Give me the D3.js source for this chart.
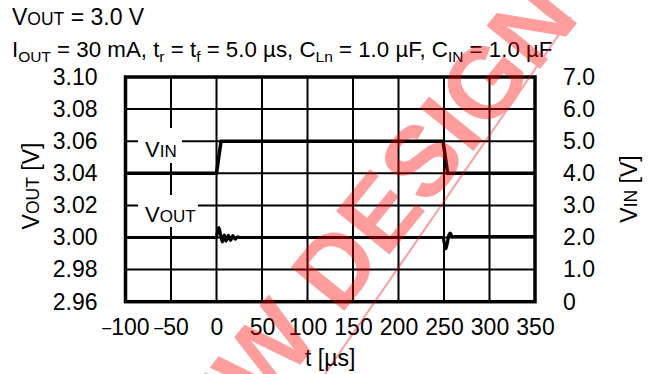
<!DOCTYPE html>
<html><head><meta charset="utf-8">
<script src="https://cdn.jsdelivr.net/npm/d3@7"></script>
<style>
html,body{margin:0;padding:0;background:#fff;}
svg{display:block;font-family:"Liberation Sans",Arial,Helvetica,sans-serif;}
</style></head>
<body>
<svg id="chart" width="653" height="374"></svg>
<script>
// ---- data ----
const xTicks = [-100, -50, 0, 50, 100, 150, 200, 250, 300, 350];
const xTickLabels = ["\u2013100", "\u201350", "0", "50", "100", "150", "200", "250", "300", "350"];
const yLeftTicks = [2.96, 2.98, 3.00, 3.02, 3.04, 3.06, 3.08, 3.10];
const yLeftTickLabels = ["2.96", "2.98", "3.00", "3.02", "3.04", "3.06", "3.08", "3.10"];
const yRightTicks = [0, 1, 2, 3, 4, 5, 6, 7];
const yRightTickLabels = ["0", "1.0", "2.0", "3.0", "4.0", "5.0", "6.0", "7.0"];

const vinTime = [-100, 0, 5, 249, 254, 350];
const vinValue = [4.0, 4.0, 5.0, 5.0, 4.0, 4.0];

const voutTime = [-100, 0, 1, 2.5, 4.5, 6.5, 8.5, 10.5, 13, 15.5, 18, 20.5, 23, 26,
                  249, 250.5, 252, 253.5, 255.5, 257, 259, 261, 350];
const voutValue = [3.000, 3.000, 3.0035, 3.0062, 3.0018, 2.9972, 3.0015, 2.9978, 3.0014, 2.9982, 3.0012, 2.9989, 3.0004, 3.000,
                   3.000, 2.996, 2.9930, 2.9962, 3.0018, 3.0028, 3.0004, 3.0005, 3.0005];

// ---- layout ----
const svg = d3.select("#chart");
const L = 125.5, R = 535, T = 77, B = 301.7;
const x = d3.scaleLinear().domain([-100, 350]).range([L, R]);
const yL = d3.scaleLinear().domain([2.96, 3.10]).range([B, T]);
const yR = d3.scaleLinear().domain([0, 7]).range([B, T]);
const FS = 23;

// grid
const grid = svg.append("g");
grid.selectAll("line.v").data(xTicks.slice(1, -1)).join("line")
  .attr("x1", d => x(d)).attr("x2", d => x(d)).attr("y1", T).attr("y2", B)
  .attr("stroke", "#000").attr("stroke-width", 2);
grid.selectAll("line.h").data(yLeftTicks.slice(1, -1)).join("line")
  .attr("class", "h")
  .attr("x1", L).attr("x2", R).attr("y1", d => yL(d)).attr("y2", d => yL(d))
  .attr("stroke", "#000").attr("stroke-width", 2);

// label boxes (white)
svg.append("rect").attr("x", 138).attr("y", 128).attr("width", 44).attr("height", 35).attr("fill", "#fff");
svg.append("rect").attr("x", 138).attr("y", 195).attr("width", 60).attr("height", 32).attr("fill", "#fff");

function smallCapsLabel(g, big, small, xPos, yPos, fsBig, fsSmall) {
  const t = g.append("text").attr("x", xPos).attr("y", yPos).attr("font-size", fsBig).attr("fill", "#000");
  t.append("tspan").text(big);
  t.append("tspan").attr("font-size", fsSmall).text(small);
  return t;
}
smallCapsLabel(svg, "V", "IN", 145, 157, 22, 17);
smallCapsLabel(svg, "V", "OUT", 145, 222, 22, 17);

// axes (labels only)
const axB = d3.axisBottom(x).tickValues(xTicks).tickSize(0).tickPadding(0)
  .tickFormat((d, i) => xTickLabels[i]);
const gB = svg.append("g").attr("transform", `translate(0,${B + 17})`).call(axB)
  .call(g => g.select(".domain").remove());
gB.selectAll("text").attr("font-size", FS).attr("font-family", "Liberation Sans, Arial, sans-serif").attr("fill", "#000")
  .each(function () {
    const s = d3.select(this), txt = s.text();
    if (txt.startsWith("\u2013")) {
      s.text("").attr("dy", null);
      s.append("tspan").attr("font-size", 16).attr("dy", 0.71 * FS - 2.5).text("\u2013");
      s.append("tspan").attr("dy", 2.5).text(txt.slice(1));
    }
  });

const axL = d3.axisLeft(yL).tickValues(yLeftTicks).tickSize(0).tickPadding(0)
  .tickFormat((d, i) => yLeftTickLabels[i]);
svg.append("g").attr("transform", `translate(${L - 28},0)`).call(axL)
  .call(g => g.select(".domain").remove())
  .selectAll("text").attr("font-size", FS).attr("font-family", "Liberation Sans, Arial, sans-serif").attr("fill", "#000");

const axR = d3.axisRight(yR).tickValues(yRightTicks).tickSize(0).tickPadding(0)
  .tickFormat((d, i) => yRightTickLabels[i]);
svg.append("g").attr("transform", `translate(${R + 28},0)`).call(axR)
  .call(g => g.select(".domain").remove())
  .selectAll("text").attr("font-size", FS).attr("font-family", "Liberation Sans, Arial, sans-serif").attr("fill", "#000");

// axis titles
const lt = svg.append("text").attr("transform", "translate(39,186) rotate(-90)")
  .attr("text-anchor", "middle").attr("font-size", FS).attr("fill", "#000");
lt.append("tspan").text("V");
lt.append("tspan").attr("font-size", 17.5).text("OUT");
lt.append("tspan").text(" [V]");

const rt = svg.append("text").attr("transform", "translate(637,189) rotate(-90)")
  .attr("text-anchor", "middle").attr("font-size", FS).attr("fill", "#000");
rt.append("tspan").text("V");
rt.append("tspan").attr("font-size", 17.5).text("IN");
rt.append("tspan").text(" [V]");

svg.append("text").attr("x", (L + R) / 2).attr("y", 366).attr("text-anchor", "middle")
  .attr("font-size", FS).attr("fill", "#000").text("t [\u00b5s]");

// titles
const t1 = svg.append("text").attr("x", 12).attr("y", 25).attr("font-size", FS).attr("fill", "#000");
t1.append("tspan").text("V");
t1.append("tspan").attr("font-size", 17.5).text("OUT");
t1.append("tspan").text(" = 3.0 V");

const t2 = svg.append("text").attr("x", 12).attr("y", 57).attr("font-size", 22.3).attr("fill", "#000");
function sub(txt) { t2.append("tspan").attr("font-size", 15.5).attr("dy", 5).text(txt); }
function norm(txt, back) { const s = t2.append("tspan").text(txt); if (back) s.attr("dy", -5); }
norm("I");
sub("OUT");
norm(" = 30 mA, t", true);
sub("r");
norm(" = t", true);
sub("f");
norm(" = 5.0 \u00b5s, C", true);
sub("Ln");
norm(" = 1.0 \u00b5F, C", true);
sub("IN");
norm(" = 1.0 \u00b5F", true);

// frame
svg.append("rect").attr("x", L).attr("y", T).attr("width", R - L).attr("height", B - T)
  .attr("fill", "none").attr("stroke", "#000").attr("stroke-width", 3.5);

// data lines
const vinLine = d3.line().x(d => x(d[0])).y(d => yR(d[1]));
svg.append("path").datum(d3.zip(vinTime, vinValue)).attr("d", vinLine)
  .attr("fill", "none").attr("stroke", "#000").attr("stroke-width", 3.5);

const voutLine = d3.line().x(d => x(d[0])).y(d => yL(d[1])).curve(d3.curveMonotoneX);
svg.append("path").datum(d3.zip(voutTime, voutValue)).attr("d", voutLine)
  .attr("fill", "none").attr("stroke", "#000").attr("stroke-width", 3.2);

// watermark
const wm = svg.append("g").attr("opacity", 0.38);
wm.append("text").attr("transform", "translate(554,-4) rotate(-51)")
  .attr("text-anchor", "end").attr("y", 35).attr("font-size", 100).attr("font-weight", "bold")
  .attr("fill", "#ff0000").text("NOT RECOMMENDED FOR NEW DESIGN");
wm.append("line").attr("x1", 571).attr("y1", 17).attr("x2", 325).attr("y2", 374)
  .attr("stroke", "#ff0000").attr("stroke-width", 2);
</script>
</body></html>
